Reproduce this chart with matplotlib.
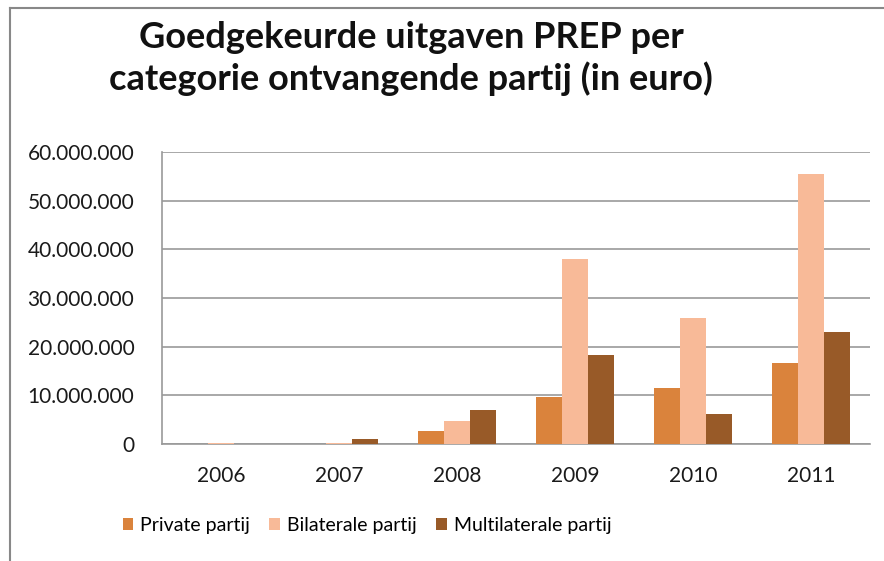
import numpy as np
import matplotlib.pyplot as plt
from matplotlib.ticker import FuncFormatter
from matplotlib.lines import Line2D

# data (euro)
years = ['2006', '2007', '2008', '2009', '2010', '2011']
private = [0, 0, 2.7e6, 9.6e6, 11.6e6, 16.7e6]
bilateral = [0.2e6, 0.3e6, 4.8e6, 38.0e6, 25.8e6, 55.4e6]
multilateral = [0, 1.0e6, 7.0e6, 18.2e6, 6.2e6, 23.1e6]
series_names = ['Private partij', 'Bilaterale partij', 'Multilaterale partij']
colors = ['#DA833C', '#F8BA98', '#985A28']

plt.rcParams['font.family'] = ['Lato', 'DejaVu Sans']

fig = plt.figure(figsize=(8.84, 5.61), dpi=100)
ax = fig.add_axes([0.1833, 0.2086, 0.8007, 0.5204])

x = np.arange(len(years))
w = 0.22
for i, (vals, name, col) in enumerate(zip([private, bilateral, multilateral], series_names, colors)):
    ax.bar(x + (i - 1) * w, vals, width=w, color=col, label=name, zorder=3)

ax.set_ylim(0, 60e6)
ax.set_xlim(-0.5, len(years) - 0.5)
ax.set_yticks(np.arange(0, 60e6 + 1, 10e6))
ax.yaxis.set_major_formatter(FuncFormatter(lambda v, p: f'{int(v):,}'.replace(',', '.')))
ax.set_xticks(x)
ax.set_xticklabels(years)
ax.tick_params(axis='both', length=0, labelsize=15, colors='#1a1a1a', pad=20)
ax.tick_params(axis='x', pad=16)
ax.grid(axis='y', color='#999999', linewidth=1.2, zorder=0)
for s in ['top', 'right']:
    ax.spines[s].set_visible(False)
for s in ['left', 'bottom']:
    ax.spines[s].set_color('#999999')
    ax.spines[s].set_linewidth(1.2)

fig.text(0.465, 0.962, 'Goedgekeurde uitgaven PREP per\ncategorie ontvangende partij (in euro)',
         ha='center', va='top', fontsize=26, fontweight='bold', linespacing=1.25, color='#111111')

fig.legend(loc='center', bbox_to_anchor=(0.415, 0.064), ncol=3, frameon=False,
           fontsize=14, handlelength=0.55, handleheight=0.55, columnspacing=1.0, handletextpad=0.35)

# chart border (left and top edges visible)
fig.add_artist(Line2D([10 / 884, 10 / 884], [0, 1 - 8 / 561], transform=fig.transFigure, color='#888888', lw=1.5))
fig.add_artist(Line2D([10 / 884, 1], [1 - 8 / 561, 1 - 8 / 561], transform=fig.transFigure, color='#888888', lw=1.5))

fig.savefig('out.png', dpi=100)
